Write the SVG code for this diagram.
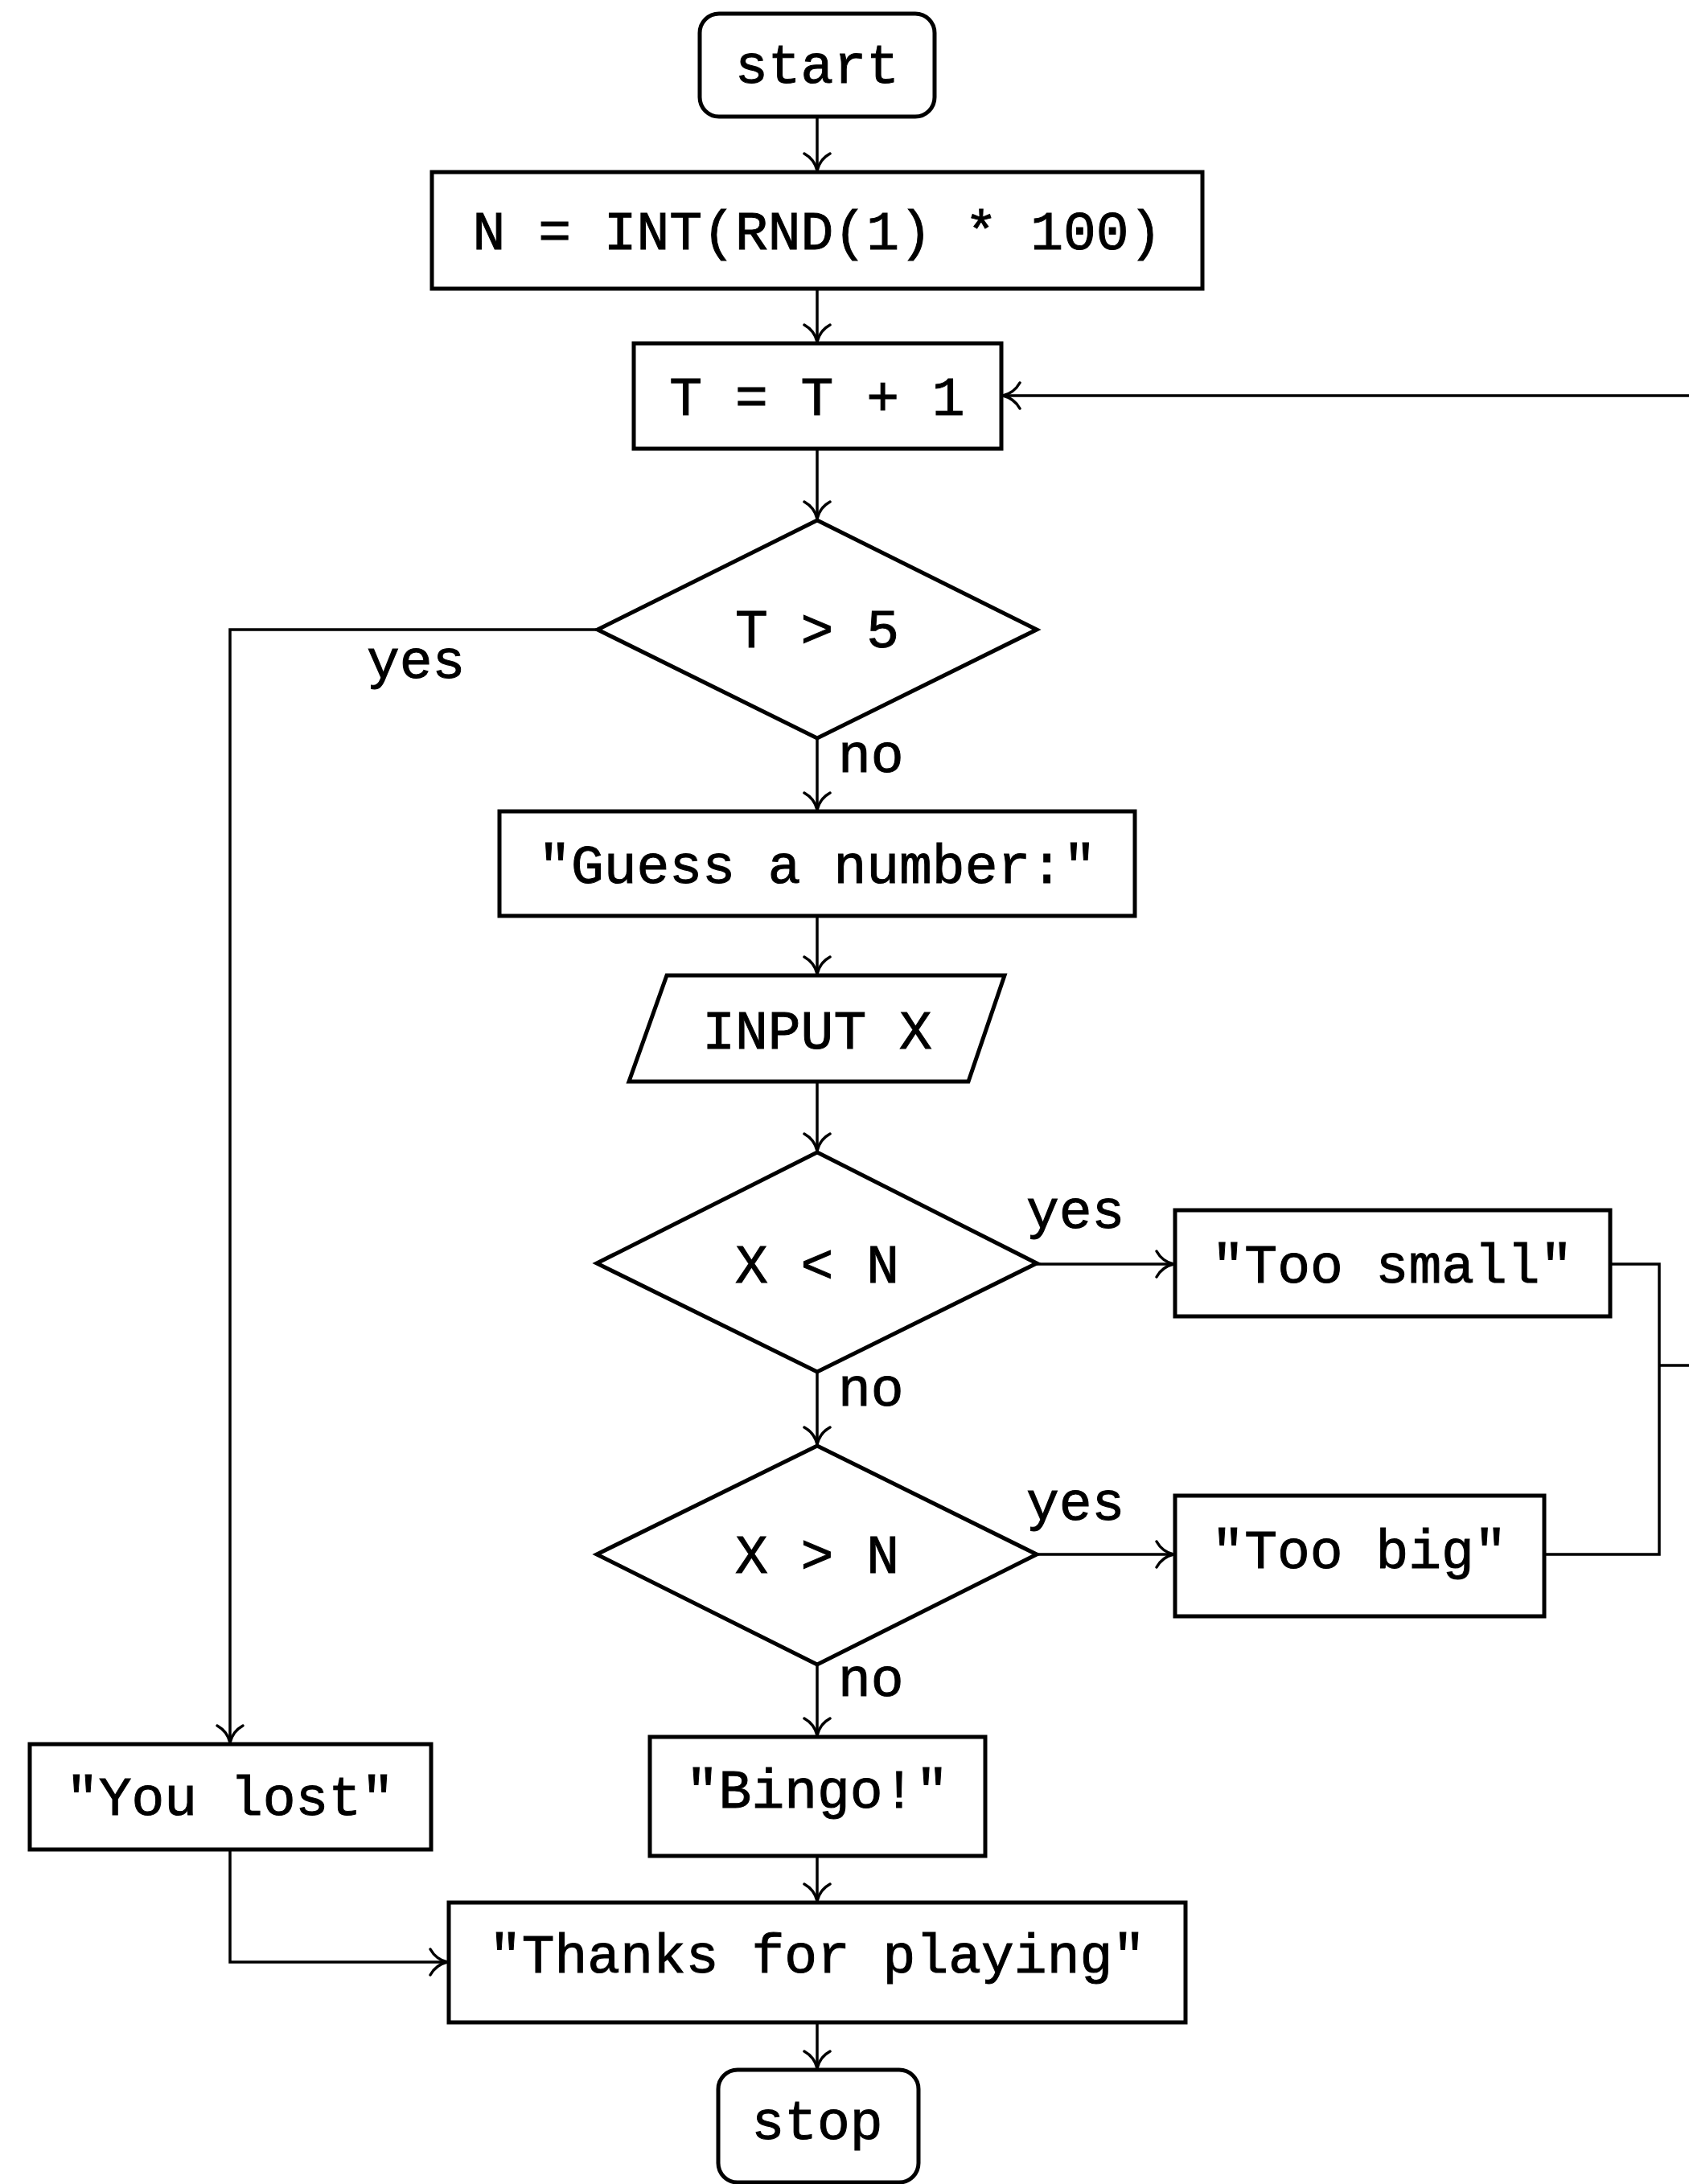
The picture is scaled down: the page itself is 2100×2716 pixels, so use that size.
<svg xmlns="http://www.w3.org/2000/svg" width="2100" height="2716" viewBox="0 0 2100 2716">
<defs>
<style>
.box{fill:#fff;stroke:#000;stroke-width:5}
.t{font-family:"Liberation Mono","DejaVu Sans Mono",monospace;font-size:68px;fill:#000;stroke:#000;stroke-width:1;text-anchor:middle}
.lbl{font-family:"Liberation Mono","DejaVu Sans Mono",monospace;font-size:68px;fill:#000;stroke:#000;stroke-width:1;text-anchor:start}
.c{fill:none;stroke:#000;stroke-width:3.5}
.ca{fill:none;stroke:#000;stroke-width:3.5;marker-end:url(#arr)}
</style>
<marker id="arr" markerWidth="28" markerHeight="38" refX="25" refY="19" orient="auto" markerUnits="userSpaceOnUse" viewBox="0 0 28 38">
<path d="M4,3 C9,12 17,17 25,19 C17,21 9,26 4,35" fill="none" stroke="#000" stroke-width="3.5" stroke-linecap="round"/>
</marker>
</defs>
<rect width="2100" height="2716" fill="#fff"/>
<g id="connectors">
<path class="ca" d="M1016,145 V212"/>
<path class="ca" d="M1016,359 V425"/>
<path class="ca" d="M1016,558 V645"/>
<path class="ca" d="M1016,918 V1007"/>
<path class="ca" d="M1016,1139 V1211"/>
<path class="ca" d="M1016,1345 V1431"/>
<path class="ca" d="M1289,1572 H1459"/>
<path class="ca" d="M1016,1706 V1796"/>
<path class="ca" d="M1289,1933 H1459"/>
<path class="ca" d="M1016,2070 V2158"/>
<path class="ca" d="M1016,2308 V2364"/>
<path class="ca" d="M1016,2515 V2572"/>
<path class="ca" d="M743,783 H286 V2167"/>
<path class="ca" d="M286,2300 V2440 H556"/>
<path class="c" d="M2002,1572 H2063 V1933 H1920"/>
<path class="ca" d="M2063,1698 H2130 V492 H1247"/>
</g>
<g id="start"><rect class="box" x="870" y="17" width="292" height="128" rx="24"/><text class="t" x="1016" y="103">start</text></g>
<g id="initN"><rect class="box" x="537" y="214" width="958" height="145"/><text class="t" x="1016" y="310">N = INT(RND(1) * 100)</text></g>
<g id="incT"><rect class="box" x="788" y="427" width="457" height="131"/><text class="t" x="1016" y="516">T = T + 1</text></g>
<g id="checkT"><polygon class="box" points="1016,647 1289,783 1016,918 743,783"/><text class="t" x="1016" y="805">T &gt; 5</text></g>
<g id="prompt"><rect class="box" x="621" y="1009" width="790" height="130"/><text class="t" x="1016" y="1098">"Guess a number:"</text></g>
<g id="input"><polygon class="box" points="829,1213 1249,1213 1204,1345 782,1345"/><text class="t" x="1016" y="1304">INPUT X</text></g>
<g id="checkLess"><polygon class="box" points="1016,1433 1289,1571 1016,1706 742,1571"/><text class="t" x="1016" y="1595">X &lt; N</text></g>
<g id="tooSmall"><rect class="box" x="1461" y="1505" width="541" height="132"/><text class="t" x="1731" y="1595">"Too small"</text></g>
<g id="checkGreater"><polygon class="box" points="1016,1798 1289,1933 1016,2070 742,1933"/><text class="t" x="1016" y="1956">X &gt; N</text></g>
<g id="tooBig"><rect class="box" x="1461" y="1860" width="459" height="150"/><text class="t" x="1690" y="1950">"Too big"</text></g>
<g id="youLost"><rect class="box" x="37" y="2169" width="499" height="131"/><text class="t" x="286" y="2257">"You lost"</text></g>
<g id="bingo"><rect class="box" x="808" y="2160" width="417" height="148"/><text class="t" x="1016" y="2248">"Bingo!"</text></g>
<g id="thanks"><rect class="box" x="558" y="2366" width="916" height="149"/><text class="t" x="1016" y="2453">"Thanks for playing"</text></g>
<g id="stop"><rect class="box" x="893" y="2574" width="249" height="140" rx="24"/><text class="t" x="1016" y="2660">stop</text></g>
<g id="labels">
<text class="lbl" x="456" y="843">yes</text>
<text class="lbl" x="1042" y="960">no</text>
<text class="lbl" x="1276" y="1527">yes</text>
<text class="lbl" x="1042" y="1748">no</text>
<text class="lbl" x="1276" y="1890">yes</text>
<text class="lbl" x="1042" y="2109">no</text>
</g>
</svg>
